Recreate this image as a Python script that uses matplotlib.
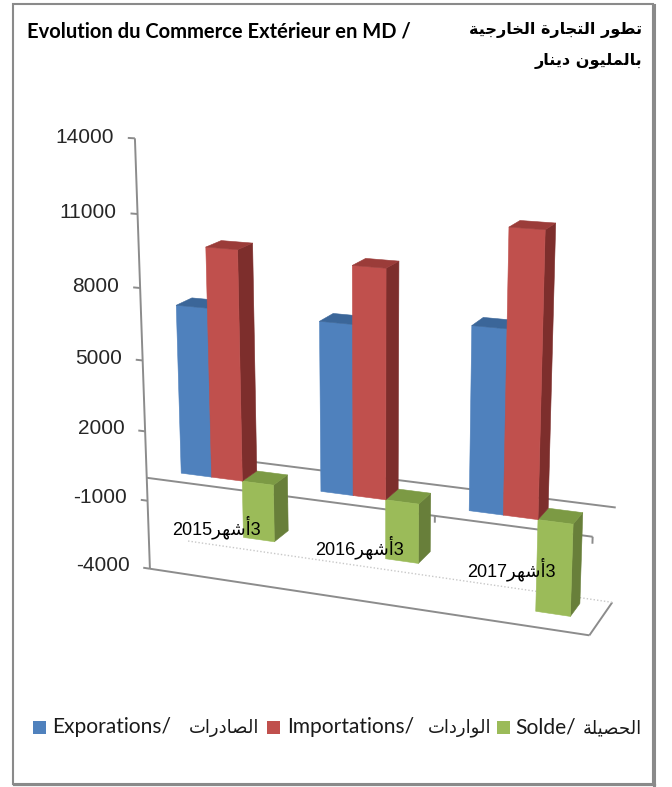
import numpy as np
import matplotlib
matplotlib.use('Agg')
import matplotlib.pyplot as plt
from matplotlib.patches import Rectangle
from matplotlib.lines import Line2D
from matplotlib.transforms import Bbox, TransformedBbox
from mpl_toolkits.mplot3d import proj3d

# ---------------- data ----------------
years = ['2015', '2016', '2017']
exports = [7150, 7050, 7450]
imports = [9650, 9400, 11350]
solde = [-2450, -2500, -3800]
series_fr = ['Exporations/', 'Importations/', 'Solde/']
series_ar = ['الصادرات', 'الواردات', 'الحصيلة']
yticks = [-4000, -1000, 2000, 5000, 8000, 11000, 14000]
period_num = '3'
period_ar = 'أشهر'
title_fr = 'Evolution du Commerce Extérieur en MD /'
title_ar1 = 'تطور التجارة الخارجية'
title_ar2 = 'بالمليون دينار'

# ---------------- minimal Arabic shaping (presentation forms, visual order) ----------------
_AR = {
    'ا': ('\uFE8D', '\uFE8E', None, None),
    'أ': ('\uFE83', '\uFE84', None, None),
    'ب': ('\uFE8F', '\uFE90', '\uFE91', '\uFE92'),
    'ة': ('\uFE93', '\uFE94', None, None),
    'ت': ('\uFE95', '\uFE96', '\uFE97', '\uFE98'),
    'ج': ('\uFE9D', '\uFE9E', '\uFE9F', '\uFEA0'),
    'ح': ('\uFEA1', '\uFEA2', '\uFEA3', '\uFEA4'),
    'خ': ('\uFEA5', '\uFEA6', '\uFEA7', '\uFEA8'),
    'د': ('\uFEA9', '\uFEAA', None, None),
    'ر': ('\uFEAD', '\uFEAE', None, None),
    'ش': ('\uFEB5', '\uFEB6', '\uFEB7', '\uFEB8'),
    'ص': ('\uFEB9', '\uFEBA', '\uFEBB', '\uFEBC'),
    'ط': ('\uFEC1', '\uFEC2', '\uFEC3', '\uFEC4'),
    'ل': ('\uFEDD', '\uFEDE', '\uFEDF', '\uFEE0'),
    'م': ('\uFEE1', '\uFEE2', '\uFEE3', '\uFEE4'),
    'ن': ('\uFEE5', '\uFEE6', '\uFEE7', '\uFEE8'),
    'ه': ('\uFEE9', '\uFEEA', '\uFEEB', '\uFEEC'),
    'و': ('\uFEED', '\uFEEE', None, None),
    'ي': ('\uFEF1', '\uFEF2', '\uFEF3', '\uFEF4'),
}


def ar(s):
    out = []
    n = len(s)
    for i, ch in enumerate(s):
        if ch not in _AR:
            out.append(ch)
            continue
        f = _AR[ch]
        prev = s[i - 1] if i > 0 else None
        nxt = s[i + 1] if i < n - 1 else None
        jp = prev in _AR and _AR[prev][2] is not None
        jn = f[2] is not None and nxt in _AR
        if jp and jn:
            out.append(f[3])
        elif jp:
            out.append(f[1])
        elif jn:
            out.append(f[2])
        else:
            out.append(f[0])
    return ''.join(out)[::-1]


W, H = 672, 787
fig = plt.figure(figsize=(W / 100, H / 100), dpi=100)
fig.patch.set_facecolor('white')

bw = 1 / 4.5          # bar width (gap width 150 %)
D = 2.5 * bw          # floor depth (gap depth 150 %)
zmin, zmax = yticks[0], yticks[-1]
ncat = len(years)

ax = fig.add_axes([0.1, 0.1, 0.8, 0.8 * W / H], projection='3d', computed_zorder=False)
ax.set_axis_off()
for axis in (ax.xaxis, ax.yaxis, ax.zaxis):
    axis.set_visible(False)


def setlims():
    try:
        ax.set_xlim(0, ncat, view_margin=0)
        ax.set_ylim(0, D, view_margin=0)
        ax.set_zlim(zmin, zmax, view_margin=0)
    except TypeError:
        ax.set_xlim(0, ncat)
        ax.set_ylim(0, D)
        ax.set_zlim(zmin, zmax)


setlims()

# reference geometry of the 3D box (layout targets, image pixel coords)
pts = np.array([
    (0, 0, -4000), (0, 0, -1000), (0, 0, 5000), (0, 0, 14000),
    (3, 0, 0), (3, 0, -4000), (3, D, -4000), (3, D, 0),
    (0, D, -4000), (0, D, 0),
    (0.75 * bw, 0.75 * bw, 0), (2 + 0.75 * bw, 0.75 * bw, 0), (2 + 2.75 * bw, 0.75 * bw, 0),
], float)
tgt = np.array([
    (149, 572), (148, 500), (143, 360), (137, 138),
    (593, 539), (590, 635), (610, 602), (615, 506),
    (188, 540), (188, 452),
    (177, 474), (470, 512), (539, 518),
], float)


def proj_pts(P):
    M = ax.get_proj()
    xs, ys, _ = proj3d.proj_transform(P[:, 0], P[:, 1], P[:, 2], M)
    return np.asarray(xs, float), np.asarray(ys, float)


def sim_fit(xs, ys, T):
    n = len(xs)
    A = np.zeros((2 * n, 3))
    b = np.zeros(2 * n)
    A[:n, 0] = xs; A[:n, 1] = 1; b[:n] = T[:, 0]
    A[n:, 0] = -ys; A[n:, 2] = 1; b[n:] = T[:, 1]
    sol = np.linalg.lstsq(A, b, rcond=None)[0]
    r = A @ sol - b
    return sol, float(np.sum(r ** 2))


def set_view(e, a, f, h):
    ax.set_box_aspect((3, D, h))
    if np.isinf(f):
        ax.set_proj_type('ortho')
    else:
        ax.set_proj_type('persp', focal_length=f)
    ax.view_init(elev=e, azim=a, roll=0)


def err(p):
    set_view(*p)
    xs, ys = proj_pts(pts)
    return sim_fit(xs, ys, tgt)[1]


best = None
for f in [0.4, 0.55, 0.7, 0.85, 1.0, 1.3, 1.7, 2.5, np.inf]:
    for h in [2.6, 2.8, 3.0, 3.2]:
        for e in np.arange(8, 38, 2.0):
            for a in np.arange(-88, -46, 2.0):
                s = err((e, a, f, h))
                if best is None or s < best[0]:
                    best = (s, (e, a, f, h))
p = list(best[1])
steps = [1.0, 1.0, 0.15 * (p[2] if np.isfinite(p[2]) else 1), 0.1]
for it in range(4):
    for k in range(4):
        if k == 2 and not np.isfinite(p[2]):
            continue
        for d in (-1, 1):
            q = list(p)
            q[k] = q[k] + d * steps[k]
            if k == 2 and q[k] <= 0.05:
                continue
            s = err(q)
            if s < best[0]:
                best = (s, tuple(q))
                p = q
    steps = [x * 0.5 for x in steps]
set_view(*best[1])
setlims()

# ---------------- floor / axes lines (drawn behind the columns) ----------------
lc = '#8c8c8c'
kw = dict(color=lc, lw=1.4, zorder=1, solid_capstyle='butt')
ax.plot([0, ncat], [D, D], [0, 0], **kw)                       # back edge of zero plane
ax.plot([0, ncat], [0, 0], [0, 0], **kw)                       # category axis
ax.plot([0, ncat], [0, 0], [zmin, zmin], **kw)                 # floor front
ax.plot([ncat, ncat], [0, D], [zmin, zmin], **kw)              # floor right
ax.plot([0, ncat], [D, D], [zmin, zmin], color='#c8c8c8', lw=1.0, ls=(0, (1, 1.5)), zorder=1)
ax.plot([0, 0], [0, 0], [zmin, zmax], **kw)                    # value axis
for v in yticks:
    ax.plot([0, -0.05], [0, 0], [v, v], **kw)
for xi in range(1, ncat + 1):
    ax.plot([xi, xi], [0, 0], [0, -280], **kw)

# ---------------- columns ----------------
series = [exports, imports, solde]
face = {0: ('#4F81BD', '#3B6699', '#385D8A'),
        1: ('#C0504D', '#9B3C39', '#7D2E2C'),
        2: ('#9BBB59', '#7C9A44', '#687F3A')}
hidden = (0, 0, 0, 0)
X, Y, Z, DX, DY, DZ, C = [], [], [], [], [], [], []
for j, vals in enumerate(series):
    fc, tc, sc = face[j]
    for i, v in enumerate(vals):
        X.append(i + 0.75 * bw + j * bw)
        Y.append(0.75 * bw)
        Z.append(min(0, v))
        DX.append(bw)
        DY.append(bw)
        DZ.append(abs(v))
        # faces: -z, +z, -y(front), +y, -x, +x(right)
        C += [hidden, tc, fc, hidden, hidden, sc]
col = ax.bar3d(X, Y, Z, DX, DY, DZ, color=C, shade=False, edgecolor=C, linewidth=0.4)
col.set_zorder(5)


# ---------------- texts anchored on projected 3D points (drawn as 2D text) ----------------
def text3(x, y, z, s, **kw_):
    px, py = proj_pts(np.array([[x, y, z]], float))
    return ax.text2D(px[0], py[0], s, transform=ax.transData, **kw_)


for v in yticks:
    text3(-0.15, 0, v, f'{v}', ha='right', va='center', fontsize=15,
          color='#262626', family=['Liberation Sans', 'DejaVu Sans'], zorder=8)
for i, yr in enumerate(years):
    lab = yr + ar(period_ar) + period_num
    text3(i + 0.5, 0, -1750, lab, ha='center', va='center', fontsize=13,
          color='black', family=['Liberation Sans', 'DejaVu Sans'], zorder=9)

# fit axes position so the projected box lands on the reference layout
fig.canvas.draw()
xs, ys = proj_pts(pts)
disp = ax.transData.transform(np.column_stack([xs, ys]))
img = np.column_stack([disp[:, 0], H - disp[:, 1]])
pos = ax.get_position()
side0 = pos.width * W
c0 = np.array([(pos.x0 + pos.width / 2) * W, H - (pos.y0 + pos.height / 2) * H])
n = len(img)
A = np.zeros((2 * n, 3)); b = np.zeros(2 * n)
A[:n, 0] = img[:, 0] - c0[0]; A[:n, 1] = 1; b[:n] = tgt[:, 0]
A[n:, 0] = img[:, 1] - c0[1]; A[n:, 2] = 1; b[n:] = tgt[:, 1]
k, cx, cy = np.linalg.lstsq(A, b, rcond=None)[0]
side = k * side0
ax.set_position([(cx - side / 2) / W, (H - cy - side / 2) / H, side / W, side / H])

# ---------------- titles ----------------
fam_lat = ['Lato', 'DejaVu Sans']
t1 = fig.text(27 / W, 1 - 31 / H, title_fr, ha='left', va='center', fontsize=12,
              fontweight='bold', family=fam_lat, color='black')
t2 = fig.text(642 / W, 1 - 30 / H, ar(title_ar1), ha='right', va='center', fontsize=12,
              fontweight='bold', family=['DejaVu Sans'], color='black')
t3 = fig.text(642 / W, 1 - 61 / H, ar(title_ar2), ha='right', va='center', fontsize=12,
              fontweight='bold', family=['DejaVu Sans'], color='black')

# ---------------- legend (key squares + French and Arabic labels) ----------------
leg_y = 727
sq_x = [33, 267, 497]
fr_x = [52, 287, 515]
ar_x = [189, 428, 583]
clipbox = TransformedBbox(Bbox([[0, 0], [651 / W, 1]]), fig.transFigure)
leg_fr, leg_ar = [], []
for j in range(3):
    fig.patches.append(Rectangle((sq_x[j] / W, (H - leg_y - 6.5) / H), 13 / W, 13 / H,
                                 transform=fig.transFigure, facecolor=face[j][0],
                                 edgecolor='none', zorder=10))
    leg_fr.append(fig.text(fr_x[j] / W, 1 - leg_y / H, series_fr[j], ha='left', va='center',
                           fontsize=14, family=fam_lat, color='#1a1a1a'))
    ta = fig.text(ar_x[j] / W, 1 - (leg_y + 1) / H, ar(series_ar[j]), ha='left', va='center',
                  fontsize=14, family=['DejaVu Sans'], color='#1a1a1a')
    ta.set_clip_box(clipbox)
    ta.set_clip_on(True)
    leg_ar.append(ta)

fig.canvas.draw()
r = fig.canvas.get_renderer()
fits = [(t1, 383), (t2, 172), (t3, 107), (leg_fr[0], 120), (leg_ar[0], 71)]
for t, wt in fits:
    wcur = t.get_window_extent(r).width
    t.set_fontsize(t.get_fontsize() * wt / wcur)
for t in leg_fr[1:]:
    t.set_fontsize(leg_fr[0].get_fontsize())
for t in leg_ar[1:]:
    t.set_fontsize(leg_ar[0].get_fontsize())

# ---------------- frame ----------------
fig.patches.append(Rectangle((13 / W, (H - 784) / H), 640 / W, 780 / H, transform=fig.transFigure,
                             fill=False, edgecolor='#8a8a8a', lw=1.5, zorder=20))
fig.lines.append(Line2D([654 / W, 654 / W], [(H - 785) / H, (H - 5) / H], transform=fig.transFigure,
                        color='#8a8a8a', lw=2.2, zorder=20))
fig.lines.append(Line2D([14 / W, 655 / W], [(H - 785) / H, (H - 785) / H], transform=fig.transFigure,
                        color='#8a8a8a', lw=1.6, zorder=20))

fig.savefig('out.png', dpi=100, facecolor='white')
